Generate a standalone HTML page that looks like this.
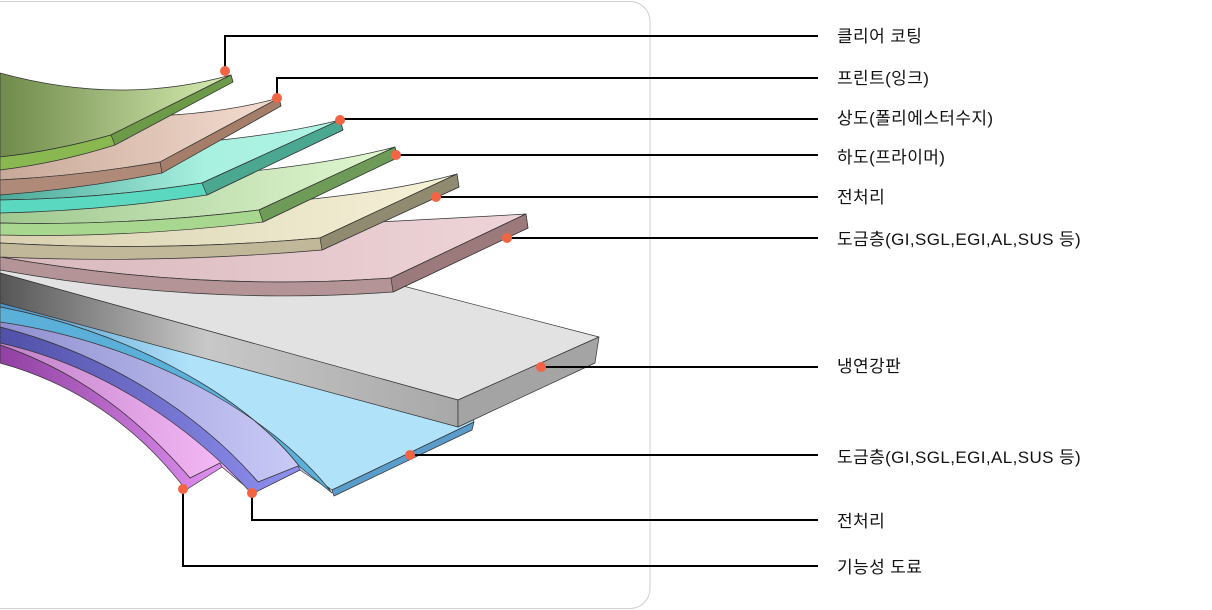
<!DOCTYPE html>
<html><head><meta charset="utf-8"><style>
html,body{margin:0;padding:0;background:#fff;width:1212px;height:610px;overflow:hidden}
svg{display:block}
text{font-family:"Liberation Sans","Noto Sans CJK KR",sans-serif;font-size:17px;letter-spacing:0.4px;fill:#111}
</style></head><body>
<svg width="1212" height="610" viewBox="0 0 1212 610" xmlns="http://www.w3.org/2000/svg">
<defs>
<linearGradient id="g1" x1="0" x2="1"><stop offset="0" stop-color="#6f8a4a"/><stop offset="1" stop-color="#d8eeb4"/></linearGradient>
<linearGradient id="g2" x1="0" x2="1"><stop offset="0" stop-color="#c8a898"/><stop offset="1" stop-color="#f4ddd0"/></linearGradient>
<linearGradient id="g3" x1="0" x2="1"><stop offset="0" stop-color="#4aa898"/><stop offset="0.6" stop-color="#a8f0e0"/><stop offset="1" stop-color="#b0f4e4"/></linearGradient>
<linearGradient id="g4" x1="0" x2="1"><stop offset="0" stop-color="#a0c890"/><stop offset="1" stop-color="#e2f8d2"/></linearGradient>
<linearGradient id="g5" x1="0" x2="1"><stop offset="0" stop-color="#d8d0b0"/><stop offset="1" stop-color="#f6f2d8"/></linearGradient>
<linearGradient id="g6" x1="0" x2="1"><stop offset="0" stop-color="#d8b8bc"/><stop offset="1" stop-color="#eed4d8"/></linearGradient>
<linearGradient id="gs" x1="0" x2="1"><stop offset="0" stop-color="#555"/><stop offset="0.45" stop-color="#c8c8c8"/><stop offset="1" stop-color="#a8a8a8"/></linearGradient>
<linearGradient id="gb" x1="0" x2="1"><stop offset="0" stop-color="#4a90c0"/><stop offset="0.4" stop-color="#b0e2fa"/><stop offset="1" stop-color="#b0e2fa"/></linearGradient>
<linearGradient id="gm" x1="0" x2="1"><stop offset="0" stop-color="#9040a0"/><stop offset="1" stop-color="#e090f0"/></linearGradient>
<linearGradient id="gp" x1="0" x2="1"><stop offset="0" stop-color="#5050a8"/><stop offset="1" stop-color="#9090f0"/></linearGradient>
<linearGradient id="gl" x1="0" x2="1"><stop offset="0" stop-color="#9090d0"/><stop offset="1" stop-color="#d0d0fc"/></linearGradient>
<linearGradient id="gk" x1="0" x2="1"><stop offset="0" stop-color="#c080c8"/><stop offset="1" stop-color="#fcc0fc"/></linearGradient>
</defs>
<rect x="-20" y="1.5" width="670" height="607" rx="20" fill="#fff" stroke="#cfcfcf" stroke-width="1"/>

<g stroke="#333" stroke-width="0.7" stroke-linejoin="round">
<!-- magenta layer -->
<path d="M0,341 C100,363 190,423 252,492 L222,467 L190,478 C140,420 80,372 0,345 Z" fill="url(#gk)"/>
<path d="M0,345 C80,372 140,420 190,478 L220,463 L222,467 L186,490 C140,430 80,385 0,363 Z" fill="url(#gm)"/>
<!-- lavender layer -->
<path d="M0,318 C140,338 270,408 330,490 L300,470 L258,482 C200,415 110,355 0,327 Z" fill="url(#gl)"/>
<path d="M0,327 C110,355 200,415 258,482 L298,466 L300,470 L252,494 C190,425 100,365 0,343 Z" fill="url(#gp)"/>
<!-- blue layer -->
<path d="M0,298 L470,410 L474,422 L332,490 L300,467 C240,390 120,330 0,307 Z" fill="url(#gb)"/>
<path d="M0,307 C120,330 240,390 300,467 L332,493 C270,412 140,342 0,322 Z" fill="#5ab0d8"/>
<path d="M332,490 L474,422 L472,430 L334,496 Z" fill="#5a9ccc"/>
<!-- steel slab -->
<path d="M0,262 L380,280 L599,337 L458,400 L0,273 Z" fill="#e2e2e2"/>
<path d="M0,273 L458,400 L458,427 L0,303 Z" fill="url(#gs)"/>
<path d="M458,400 L599,337 L595,363 L458,427 Z" fill="#a4a4a4"/>
<!-- L6 -->
<path d="M0,240 Q390,222 526,214 L391,278 Q200,292 0,257 Z" fill="url(#g6)"/>
<path d="M526,214 L528,228 L393,292 Q200,306 0,270 L0,257 Q200,292 391,278 Z" fill="#b49496"/>
<path d="M526,214 L528,228 L393,292 L391,278 Z" fill="#9c7a7c"/>
<!-- L5 -->
<path d="M0,215 Q330,210 457,174 L320,238 Q160,252 0,243 Z" fill="url(#g5)"/>
<path d="M457,174 L459,187 L322,250 Q160,264 0,257 L0,243 Q160,252 320,238 Z" fill="#c0b898"/>
<path d="M457,174 L459,187 L322,250 L320,238 Z" fill="#908a70"/>
<!-- L4 -->
<path d="M0,185 Q270,180 395,147 L259,210 Q130,226 0,223 Z" fill="url(#g4)"/>
<path d="M395,147 L397,158 L263,222 Q130,238 0,235 L0,223 Q130,226 259,210 Z" fill="#a8d890"/>
<path d="M395,147 L397,158 L263,222 L259,210 Z" fill="#6e9c58"/>
<!-- L3 -->
<path d="M0,150 Q220,150 340,120 L202,183 Q100,199 0,200 Z" fill="url(#g3)"/>
<path d="M340,120 L343,130 L207,195 Q100,211 0,213 L0,200 Q100,199 202,183 Z" fill="#5ad8c0"/>
<path d="M340,120 L343,130 L207,195 L202,183 Z" fill="#4aa890"/>
<!-- L2 -->
<path d="M0,110 Q170,128 279,98 L160,162 Q80,176 0,180 Z" fill="url(#g2)"/>
<path d="M279,98 L281,106 L162,173 Q80,189 0,195 L0,180 Q80,176 160,162 Z" fill="#b08a78"/>
<path d="M279,98 L281,106 L162,173 L160,162 Z" fill="#a57e6a"/>
<!-- L1 -->
<path d="M0,73 Q120,106 231,75 L111,135 Q55,151 0,157 Z" fill="url(#g1)"/>
<path d="M231,75 L233,82 L115,145 Q58,163 0,170 L0,157 Q55,151 111,135 Z" fill="#8ab850"/>
<path d="M231,75 L233,82 L115,145 L111,135 Z" fill="#6c9a48"/>
</g>

<g stroke="#000" stroke-width="2" fill="none">
<polyline points="225,71 225,36 818,36"/>
<polyline points="277,98 277,78 818,78"/>
<polyline points="340,119 818,119"/>
<polyline points="396,155 818,155"/>
<polyline points="436,197 818,197"/>
<polyline points="507,238 818,238"/>
<polyline points="541,367 818,367"/>
<polyline points="410,455 818,455"/>
<polyline points="252,493 252,520 818,520"/>
<polyline points="183,489 183,566 818,566"/>
</g>
<g fill="#f26444">
<circle cx="225" cy="71" r="5"/><circle cx="277" cy="98" r="5"/><circle cx="340" cy="120" r="5"/>
<circle cx="396" cy="155" r="5"/><circle cx="436" cy="197" r="5"/><circle cx="507" cy="238" r="5"/>
<circle cx="541" cy="367" r="5"/><circle cx="410" cy="455" r="5"/><circle cx="183" cy="489" r="5"/>
<circle cx="252" cy="493" r="5"/>
</g>
<g>
<text x="837" y="42">클리어 코팅</text>
<text x="837" y="84">프린트(잉크)</text>
<text x="837" y="124">상도(폴리에스터수지)</text>
<text x="837" y="163">하도(프라이머)</text>
<text x="837" y="203">전처리</text>
<text x="837" y="245">도금층(GI,SGL,EGI,AL,SUS 등)</text>
<text x="837" y="372">냉연강판</text>
<text x="837" y="463">도금층(GI,SGL,EGI,AL,SUS 등)</text>
<text x="837" y="527">전처리</text>
<text x="837" y="573">기능성 도료</text>
</g>
</svg>
</body></html>
